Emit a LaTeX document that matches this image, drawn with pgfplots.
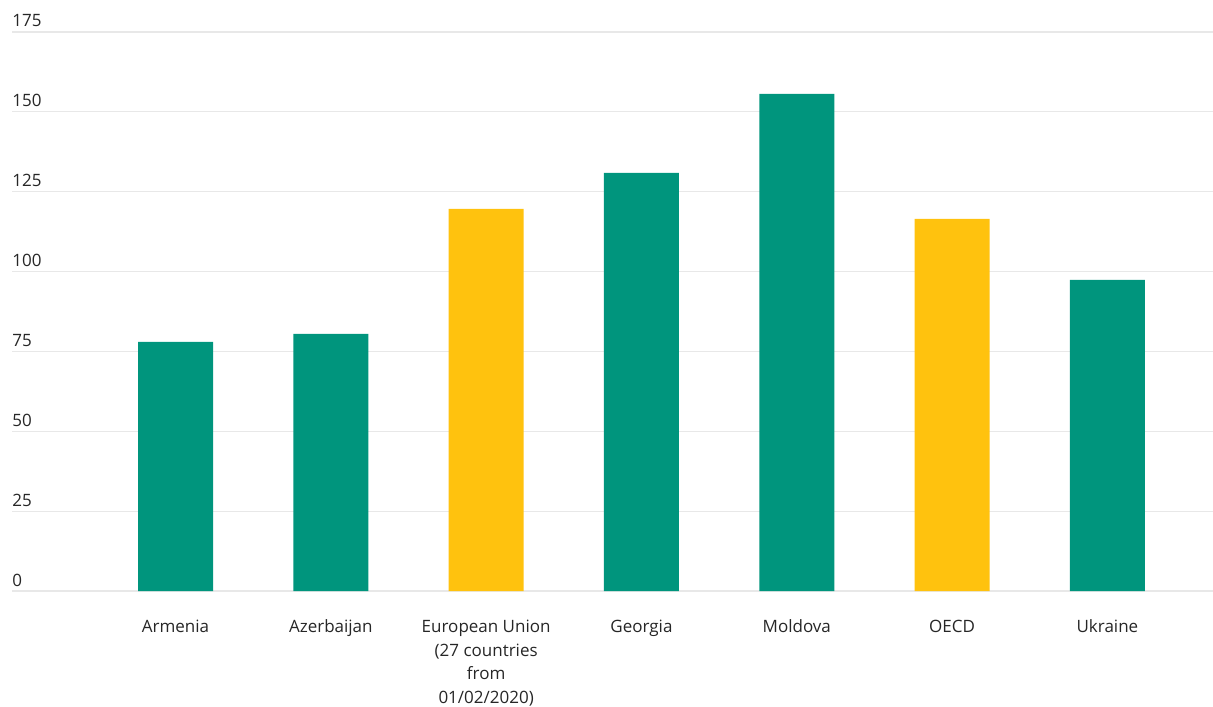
\documentclass[border=0pt]{standalone}
\usepackage{pgfplots}
\pgfplotsset{compat=1.18}
\usepackage{fontspec}
\setmainfont{Open Sans}
\definecolor{barG}{HTML}{00957D}
\definecolor{barY}{HTML}{FFC20E}
\definecolor{gridc}{HTML}{E8E8E8}
\definecolor{txt}{HTML}{262626}
\begin{document}
\begin{tikzpicture}
\useasboundingbox (-6pt,-57.5pt) rectangle (600.5pt,295.5pt);
\begin{axis}[
  at={(0,0)}, anchor=south west,
  scale only axis, width=600.5pt, height=279.5pt,
  xmin=-1.053, xmax=6.68, ymin=0, ymax=175,
  ytick={0,25,50,75,100,125,150,175},
  xtick={0,1,2,3,4,5,6},
  xticklabels={Armenia,Azerbaijan,{European Union\\(27 countries\\from\\01/02/2020)},Georgia,Moldova,OECD,Ukraine},
  /pgf/number format/assume math mode=true,
  axis line style={draw=none},
  major tick length=0pt,
  ymajorgrids, grid style={gridc, line width=0.6pt},
  typeset ticklabels with strut,
  yticklabel style={anchor=base west, inner sep=0pt, yshift=2.5pt, font=\fontsize{8.5}{10}\selectfont, text=txt},
  xticklabel style={anchor=north, align=center, inner sep=0pt, yshift=-12.5pt, font=\fontsize{8.5}{11.75}\selectfont, text=txt},
  ybar, bar width=37.5pt,
  clip=false,
]
\addplot[bar shift=0pt, fill=barG, draw=none] coordinates {(0,78.0) (1,80.5) (3,130.9) (4,155.6) (6,97.4)};
\addplot[bar shift=0pt, fill=barY, draw=none] coordinates {(2,119.6) (5,116.5)};
\end{axis}
\end{tikzpicture}
\end{document}
